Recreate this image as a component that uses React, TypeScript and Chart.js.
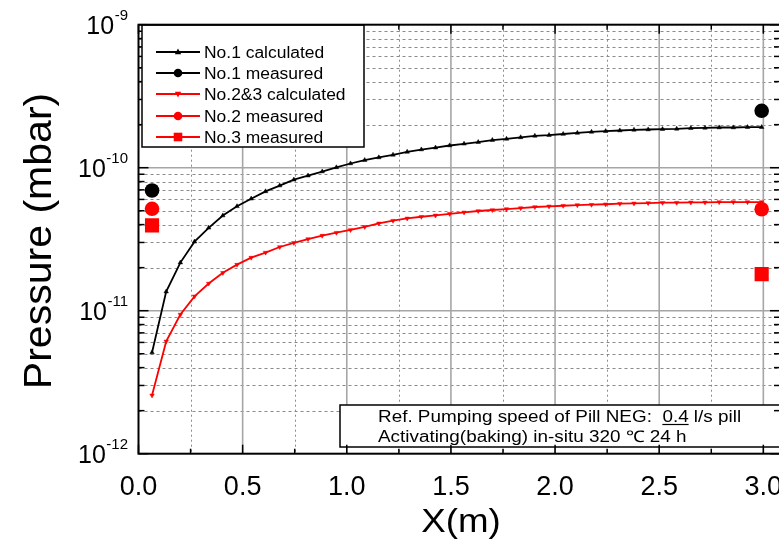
import React, { useEffect, useRef } from 'react';
import { Chart, registerables } from 'chart.js';

Chart.register(...registerables);

// ---------- data ----------
const xPositions = [
  0.065, 0.133, 0.201, 0.269, 0.337, 0.405, 0.473, 0.541, 0.610, 0.678,
  0.746, 0.814, 0.882, 0.950, 1.018, 1.086, 1.154, 1.222, 1.290, 1.358,
  1.426, 1.494, 1.563, 1.631, 1.699, 1.767, 1.835, 1.903, 1.971, 2.039,
  2.107, 2.175, 2.243, 2.311, 2.379, 2.447, 2.516, 2.584, 2.652, 2.720,
  2.788, 2.856, 2.924, 2.992,
];

const no1Calculated = [
  5.1e-12, 1.36e-11, 2.17e-11, 3.04e-11, 3.8e-11, 4.63e-11, 5.37e-11, 6.07e-11, 6.83e-11, 7.5e-11,
  8.24e-11, 8.8e-11, 9.4e-11, 1.005e-10, 1.07e-10, 1.13e-10, 1.18e-10, 1.23e-10, 1.29e-10, 1.34e-10,
  1.38e-10, 1.43e-10, 1.47e-10, 1.51e-10, 1.56e-10, 1.59e-10, 1.63e-10, 1.67e-10, 1.69e-10, 1.72e-10,
  1.75e-10, 1.78e-10, 1.8e-10, 1.82e-10, 1.84e-10, 1.85e-10, 1.86e-10, 1.87e-10, 1.89e-10, 1.9e-10,
  1.91e-10, 1.91e-10, 1.92e-10, 1.92e-10,
];

const no23Calculated = [
  2.56e-12, 6.1e-12, 9.4e-12, 1.26e-11, 1.55e-11, 1.84e-11, 2.1e-11, 2.35e-11, 2.55e-11, 2.79e-11,
  2.98e-11, 3.17e-11, 3.35e-11, 3.51e-11, 3.67e-11, 3.86e-11, 4.08e-11, 4.26e-11, 4.42e-11, 4.54e-11,
  4.64e-11, 4.76e-11, 4.87e-11, 4.98e-11, 5.06e-11, 5.14e-11, 5.22e-11, 5.31e-11, 5.37e-11, 5.42e-11,
  5.48e-11, 5.51e-11, 5.55e-11, 5.6e-11, 5.63e-11, 5.66e-11, 5.69e-11, 5.69e-11, 5.72e-11, 5.72e-11,
  5.75e-11, 5.75e-11, 5.75e-11, 5.75e-11,
];

const measuredX = [0.065, 2.992];
const no1Measured = [6.93e-11, 2.5e-10];
const no2Measured = [5.16e-11, 5.12e-11];
const no3Measured = [3.95e-11, 1.8e-11];

const xMajorTicks = [0, 0.5, 1.0, 1.5, 2.0, 2.5, 3.0];
const xTickLabels = ['0.0', '0.5', '1.0', '1.5', '2.0', '2.5', '3.0'];
const xMinorTicks = [0.25, 0.75, 1.25, 1.75, 2.25, 2.75];
const yDecades = [-12, -11, -10, -9];
const yMinorMultipliers = [2, 3, 4, 5, 6, 7, 8, 9];

const seriesNames = [
  'No.1 calculated',
  'No.1 measured',
  'No.2&3 calculated',
  'No.2 measured',
  'No.3 measured',
];
const xTitle = 'X(m)';
const yTitle = 'Pressure (mbar)';
const noteLine1a = 'Ref. Pumping speed of Pill NEG:  ';
const noteLine1b = '0.4';
const noteLine1c = ' l/s pill';
const noteLine2 = 'Activating(baking) in-situ 320 \u2103 24 h';

// ---------- drawing helpers ----------
const FONT = '"Liberation Sans", Arial, Helvetica, sans-serif';

function drawText(
  ctx: CanvasRenderingContext2D,
  text: string,
  x: number,
  y: number,
  size: number,
  sx = 1,
  align: 'left' | 'center' | 'right' = 'left',
  color = '#000'
) {
  ctx.save();
  ctx.font = `${size}px ${FONT}`;
  const w = ctx.measureText(text).width * sx;
  let left = x;
  if (align === 'center') left = x - w / 2;
  else if (align === 'right') left = x - w;
  ctx.translate(left, y);
  ctx.scale(sx, 1);
  ctx.textAlign = 'left';
  ctx.textBaseline = 'alphabetic';
  ctx.fillStyle = color;
  ctx.fillText(text, 0, 0);
  ctx.restore();
  return w;
}

function seg(ctx: CanvasRenderingContext2D, x1: number, y1: number, x2: number, y2: number) {
  ctx.beginPath();
  ctx.moveTo(x1, y1);
  ctx.lineTo(x2, y2);
  ctx.stroke();
}

function marker(ctx: CanvasRenderingContext2D, kind: string, x: number, y: number, color: string) {
  ctx.save();
  ctx.fillStyle = color;
  ctx.beginPath();
  if (kind === 'triUp') {
    ctx.moveTo(x, y - 3.5);
    ctx.lineTo(x + 3.2, y + 2.3);
    ctx.lineTo(x - 3.2, y + 2.3);
    ctx.closePath();
  } else if (kind === 'triDown') {
    ctx.moveTo(x, y + 3.5);
    ctx.lineTo(x + 3.2, y - 2.3);
    ctx.lineTo(x - 3.2, y - 2.3);
    ctx.closePath();
  } else if (kind === 'circle') {
    ctx.arc(x, y, 4.3, 0, Math.PI * 2);
  } else {
    ctx.rect(x - 4.3, y - 4.3, 8.6, 8.6);
  }
  ctx.fill();
  ctx.restore();
}

const framePlugin = {
  id: 'frame',
  beforeDatasetsDraw(chart: any) {
    const { ctx, chartArea: a } = chart;
    const xs = chart.scales.x;
    const ys = chart.scales.y;
    ctx.save();
    // minor horizontal dashed
    ctx.lineWidth = 1;
    ctx.strokeStyle = '#8a8a8a';
    ctx.setLineDash([3, 3]);
    for (const d of yDecades.slice(0, -1)) {
      for (const m of yMinorMultipliers) {
        const py = Math.round(ys.getPixelForValue(m * Math.pow(10, d))) + 0.5;
        seg(ctx, a.left, py, a.right, py);
      }
    }
    // minor vertical dotted
    ctx.setLineDash([2, 3]);
    for (const v of xMinorTicks) {
      const px = Math.round(xs.getPixelForValue(v)) + 0.5;
      seg(ctx, px, a.top, px, a.bottom);
    }
    // major grid
    ctx.setLineDash([]);
    ctx.strokeStyle = '#a6a6a6';
    ctx.lineWidth = 1.6;
    for (const d of yDecades.slice(1, -1)) {
      const py = ys.getPixelForValue(Math.pow(10, d));
      seg(ctx, a.left, py, a.right, py);
    }
    for (const v of xMajorTicks.slice(1)) {
      const px = xs.getPixelForValue(v);
      seg(ctx, px, a.top, px, a.bottom);
    }
    ctx.restore();
  },
  afterDatasetsDraw(chart: any) {
    const { ctx, chartArea: a } = chart;
    const xs = chart.scales.x;
    const ys = chart.scales.y;
    ctx.save();

    // annotation box
    ctx.fillStyle = '#fff';
    ctx.fillRect(340, 405, 460, 42);
    ctx.strokeStyle = '#000';
    ctx.lineWidth = 1.5;
    ctx.strokeRect(340, 405, 460, 42);
    const sxN = 1.18;
    let tx = 378;
    tx += drawText(ctx, noteLine1a, tx, 421.5, 16, sxN);
    const w04 = drawText(ctx, noteLine1b, tx, 421.5, 16, sxN);
    ctx.lineWidth = 1.2;
    seg(ctx, tx, 424.5, tx + w04, 424.5);
    tx += w04;
    drawText(ctx, noteLine1c, tx, 421.5, 16, sxN);
    drawText(ctx, noteLine2, 378, 441.5, 16, sxN);

    // ticks
    ctx.strokeStyle = '#000';
    ctx.lineWidth = 1.5;
    for (const v of xMajorTicks) {
      const px = xs.getPixelForValue(v);
      seg(ctx, px, a.bottom, px, a.bottom - 9);
      seg(ctx, px, a.top, px, a.top + 9);
    }
    for (const v of xMinorTicks) {
      const px = xs.getPixelForValue(v);
      seg(ctx, px, a.bottom, px, a.bottom - 5);
      seg(ctx, px, a.top, px, a.top + 5);
    }
    for (const d of yDecades) {
      const py = ys.getPixelForValue(Math.pow(10, d));
      seg(ctx, a.left, py, a.left + 10, py);
      seg(ctx, a.right, py, a.right - 10, py);
      if (d < -9) {
        for (const m of yMinorMultipliers) {
          const pm = ys.getPixelForValue(m * Math.pow(10, d));
          seg(ctx, a.left, pm, a.left + 6, pm);
          seg(ctx, a.right, pm, a.right - 6, pm);
        }
      }
    }

    // legend box
    ctx.fillStyle = '#fff';
    ctx.fillRect(142, 25, 222, 122);
    ctx.lineWidth = 1.5;
    ctx.strokeStyle = '#000';
    ctx.strokeRect(142, 25, 222, 122);
    const rows = [52, 73, 94, 116, 137];
    const colors = ['#000', '#000', '#ff0000', '#ff0000', '#ff0000'];
    const kinds = ['triUp', 'circle', 'triDown', 'circle', 'square'];
    seriesNames.forEach((name, i) => {
      const ry = rows[i];
      ctx.strokeStyle = colors[i];
      ctx.lineWidth = 2;
      seg(ctx, 156, ry, 200, ry);
      marker(ctx, kinds[i], 178, ry, colors[i]);
      drawText(ctx, name, 204, ry + 6, 16, 1.09);
    });

    // border
    ctx.strokeStyle = '#000';
    ctx.lineWidth = 2;
    ctx.strokeRect(a.left, a.top, a.right - a.left, a.bottom - a.top);

    // x tick labels
    xMajorTicks.forEach((v, i) => {
      const px = xs.getPixelForValue(v);
      drawText(ctx, xTickLabels[i], px, 495, 27, 1.0, 'center');
    });

    // y tick labels (10^n)
    for (const d of yDecades) {
      const py = ys.getPixelForValue(Math.pow(10, d));
      const sup = String(d);
      const sw = drawText(ctx, sup, 128, py - 5, 15, 1, 'right');
      drawText(ctx, '10', 128 - sw - 0.5, py + 9, 25, 1, 'right');
    }

    // axis titles
    drawText(ctx, xTitle, 461, 532, 34, 1.08, 'center');
    ctx.save();
    ctx.translate(51, 241);
    ctx.rotate(-Math.PI / 2);
    drawText(ctx, yTitle, 0, 0, 38, 1.08, 'center');
    ctx.restore();

    ctx.restore();
  },
};

export default function App() {
  const canvasRef = useRef<HTMLCanvasElement | null>(null);

  useEffect(() => {
    document.body.style.margin = '0';
    const canvas = canvasRef.current;
    if (!canvas) return;
    const chart = new Chart(canvas, {
      type: 'scatter',
      data: {
        datasets: [
          {
            label: seriesNames[1],
            data: measuredX.map((x, i) => ({ x, y: no1Measured[i] })),
            showLine: false,
            pointStyle: 'circle',
            pointRadius: 7.3,
            pointBackgroundColor: '#000',
            pointBorderWidth: 0,
            borderColor: '#000',
          },
          {
            label: seriesNames[3],
            data: measuredX.map((x, i) => ({ x, y: no2Measured[i] })),
            showLine: false,
            pointStyle: 'circle',
            pointRadius: 7.3,
            pointBackgroundColor: '#ff0000',
            pointBorderWidth: 0,
            borderColor: '#ff0000',
          },
          {
            label: seriesNames[4],
            data: measuredX.map((x, i) => ({ x, y: no3Measured[i] })),
            showLine: false,
            pointStyle: 'rect',
            pointRadius: 10,
            pointBackgroundColor: '#ff0000',
            pointBorderWidth: 0,
            borderColor: '#ff0000',
          },
          {
            label: seriesNames[0],
            data: xPositions.map((x, i) => ({ x, y: no1Calculated[i] })),
            showLine: true,
            borderColor: '#000',
            borderWidth: 1.8,
            pointStyle: 'triangle',
            pointRadius: 2.6,
            pointBackgroundColor: '#000',
            pointBorderColor: '#000',
            pointBorderWidth: 0.5,
            tension: 0,
          },
          {
            label: seriesNames[2],
            data: xPositions.map((x, i) => ({ x, y: no23Calculated[i] })),
            showLine: true,
            borderColor: '#ff0000',
            borderWidth: 1.8,
            pointStyle: 'triangle',
            pointRotation: 180,
            pointRadius: 2.6,
            pointBackgroundColor: '#ff0000',
            pointBorderColor: '#ff0000',
            pointBorderWidth: 0.5,
            tension: 0,
          },
        ],
      },
      options: {
        responsive: false,
        animation: false,
        events: [],
        layout: { padding: { left: 138.5, top: 24.7, right: 9, bottom: 89.3 } },
        plugins: {
          legend: { display: false },
          tooltip: { enabled: false },
          title: { display: false },
        },
        scales: {
          x: { type: 'linear', min: 0, max: 3.08, display: false },
          y: { type: 'logarithmic', min: 1e-12, max: 1e-9, display: false },
        },
      },
      plugins: [framePlugin],
    });
    return () => chart.destroy();
  }, []);

  return (
    <div style={{ width: 779, height: 543, overflow: 'hidden', position: 'relative', background: '#fff' }}>
      <canvas ref={canvasRef} width={790} height={543} style={{ display: 'block' }} />
    </div>
  );
}
